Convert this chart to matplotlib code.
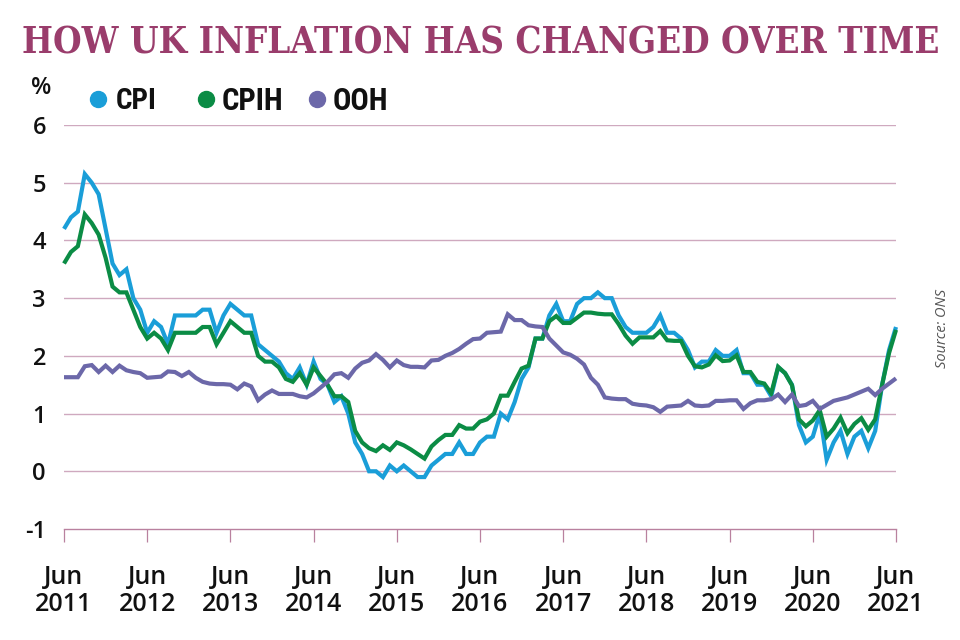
import matplotlib
matplotlib.use("Agg")
import matplotlib.pyplot as plt
from matplotlib import font_manager as fm
from matplotlib.lines import Line2D
import numpy as np

# ---------------- data (monthly, Jun 2011 .. Jun 2021) ----------------
months = np.arange(121)
tick_positions = list(range(0, 121, 12))
tick_labels = [f"Jun\n{y}" for y in range(2011, 2022)]
y_ticks = [-1, 0, 1, 2, 3, 4, 5, 6]

cpi = [4.2, 4.4, 4.5, 5.15, 5.0, 4.8, 4.2,
       3.6, 3.4, 3.5, 3.0, 2.8, 2.4, 2.6, 2.5, 2.2, 2.7, 2.7, 2.7,
       2.7, 2.8, 2.8, 2.4, 2.7, 2.9, 2.8, 2.7, 2.7, 2.2, 2.1, 2.0,
       1.9, 1.7, 1.6, 1.8, 1.5, 1.9, 1.6, 1.5, 1.2, 1.3, 1.0, 0.5,
       0.3, 0.0, 0.0, -0.1, 0.1, 0.0, 0.1, 0.0, -0.1, -0.1, 0.1, 0.2,
       0.3, 0.3, 0.5, 0.3, 0.3, 0.5, 0.6, 0.6, 1.0, 0.9, 1.2, 1.6,
       1.8, 2.3, 2.3, 2.7, 2.9, 2.6, 2.6, 2.9, 3.0, 3.0, 3.1, 3.0,
       3.0, 2.7, 2.5, 2.4, 2.4, 2.4, 2.5, 2.7, 2.4, 2.4, 2.3, 2.1,
       1.8, 1.9, 1.9, 2.1, 2.0, 2.0, 2.1, 1.7, 1.7, 1.5, 1.5, 1.3,
       1.8, 1.7, 1.5, 0.8, 0.5, 0.6, 1.0, 0.2, 0.5, 0.7, 0.3, 0.6,
       0.7, 0.4, 0.7, 1.5, 2.1, 2.5]

cpih = [3.6, 3.8, 3.9, 4.45, 4.3, 4.1, 3.7,
        3.2, 3.1, 3.1, 2.8, 2.5, 2.3, 2.4, 2.3, 2.1, 2.4, 2.4, 2.4,
        2.4, 2.5, 2.5, 2.2, 2.4, 2.6, 2.5, 2.4, 2.4, 2.0, 1.9, 1.9,
        1.8, 1.6, 1.55, 1.7, 1.5, 1.8, 1.65, 1.5, 1.3, 1.3, 1.2, 0.7,
        0.5, 0.4, 0.35, 0.45, 0.37, 0.5, 0.45, 0.38, 0.3, 0.22, 0.43, 0.54,
        0.63, 0.63, 0.8, 0.74, 0.74, 0.86, 0.9, 1.0, 1.31, 1.31, 1.55, 1.78,
        1.83, 2.3, 2.3, 2.6, 2.69, 2.57, 2.57, 2.66, 2.75, 2.75, 2.73, 2.72,
        2.72, 2.55, 2.35, 2.21, 2.32, 2.32, 2.32, 2.43, 2.27, 2.26, 2.26, 2.0,
        1.82, 1.8, 1.85, 2.01, 1.91, 1.92, 2.01, 1.72, 1.72, 1.55, 1.52, 1.35,
        1.81, 1.7, 1.49, 0.9, 0.78, 0.88, 1.06, 0.6, 0.74, 0.93, 0.66, 0.82,
        0.92, 0.72, 0.9, 1.5, 2.05, 2.45]

ooh = [1.63, 1.63, 1.63, 1.82, 1.84, 1.72, 1.83, 1.72, 1.83, 1.75, 1.72, 1.70,
       1.62, 1.63, 1.64, 1.73, 1.72, 1.65, 1.72, 1.62, 1.55, 1.52, 1.51, 1.51,
       1.50, 1.42, 1.52, 1.47, 1.23, 1.33, 1.40, 1.34, 1.34, 1.34, 1.30, 1.28,
       1.35, 1.45, 1.55, 1.68, 1.70, 1.62, 1.78, 1.88, 1.92, 2.03, 1.93, 1.80,
       1.92, 1.84, 1.81, 1.81, 1.80, 1.92, 1.93, 2.00, 2.05, 2.12, 2.21, 2.29,
       2.30, 2.40, 2.41, 2.42, 2.72, 2.62, 2.62, 2.53, 2.51, 2.50, 2.30, 2.18,
       2.06, 2.02, 1.95, 1.85, 1.62, 1.50, 1.28, 1.26, 1.25, 1.25, 1.17, 1.15,
       1.14, 1.11, 1.03, 1.12, 1.13, 1.14, 1.22, 1.14, 1.13, 1.14, 1.22, 1.22,
       1.23, 1.23, 1.08, 1.18, 1.23, 1.23, 1.25, 1.33, 1.20, 1.33, 1.13, 1.15,
       1.22, 1.08, 1.15, 1.22, 1.25, 1.28, 1.33, 1.38, 1.43, 1.32, 1.43, 1.52,
       1.61]

series_names = ["CPI", "CPIH", "OOH"]
series_values = [cpi, cpih, ooh]
series_colors = ["#1a9ed8", "#0b8c45", "#6c68a9"]

title = "HOW UK INFLATION HAS CHANGED OVER TIME"
TITLE_COLOR = "#9a3d6c"
GRID_COLOR = "#cfa9bf"
BASE_COLOR = "#b9819f"

# ---------------- fonts ----------------
def _w(f):
    w = f.weight
    if isinstance(w, str):
        w = fm.weight_dict.get(w, 400)
    return w

def _cond_level(f):
    s = (f.name + " " + str(f.fname) + " " + str(f.stretch)).lower()
    if "extracondensed" in s or "extra-condensed" in s or "ultra" in s and "condensed" in s:
        return 3
    if "semicondensed" in s or "semi-condensed" in s:
        return 1
    if "condensed" in s or "narrow" in s:
        return 2
    return 0

def pick(families, min_w, max_w=1000, prefer_cond=(3, 2, 1)):
    for fam in families:
        for lvl in prefer_cond:
            best = None
            for f in fm.fontManager.ttflist:
                if not f.name.startswith(fam) or f.style != "normal":
                    continue
                w = _w(f)
                if w < min_w or w > max_w:
                    continue
                if _cond_level(f) != lvl:
                    continue
                if best is None or w > _w(best):
                    best = f
            if best is not None:
                return fm.FontProperties(fname=best.fname)
    return None

fp_title = pick(["DejaVu Serif", "Noto Serif"], 700, prefer_cond=(2, 3, 1))
if fp_title is None:
    fp_title = fm.FontProperties(family="DejaVu Serif", weight="bold")

fp_leg = pick(["Liberation Sans Narrow", "Roboto", "Noto Sans", "Open Sans", "DejaVu Sans"],
              700, prefer_cond=(3, 2, 1))
if fp_leg is None:
    fp_leg = fm.FontProperties(family="DejaVu Sans", weight="bold")

names = {f.name for f in fm.fontManager.ttflist}
tick_family = "Open Sans" if "Open Sans" in names else "DejaVu Sans"

# ---------------- figure ----------------
W, H = 960, 640
fig = plt.figure(figsize=(W / 100, H / 100), dpi=100)
fig.patch.set_facecolor("white")

def fx(px):
    return px / W

def fy(py):
    return 1 - py / H

ax = fig.add_axes([fx(64), fy(529), fx(832), (529 - 125) / H])
ax.set_xlim(0, 120)
ax.set_ylim(-1, 6)
for s in ax.spines.values():
    s.set_visible(False)

for v in range(0, 7):
    ax.axhline(v, color=GRID_COLOR, lw=1.0, zorder=0)
ax.axhline(-1, color=BASE_COLOR, lw=1.0, zorder=0, clip_on=False)

for vals, col in zip(series_values, series_colors):
    ax.plot(months, vals, color=col, lw=3.0, solid_joinstyle="miter",
            solid_capstyle="butt", zorder=3, clip_on=False)

ax.set_xticks(tick_positions)
ax.set_xticklabels(tick_labels, family=tick_family, fontsize=18,
                   fontweight="semibold", linespacing=1.08, color="#111111")
ax.tick_params(axis="x", length=9, width=0.9, color=BASE_COLOR, pad=17)

ax.set_yticks(y_ticks)
ax.set_yticklabels([str(v) for v in y_ticks], family=tick_family,
                   fontsize=17, fontweight="semibold", color="#111111")
ax.tick_params(axis="y", length=0, pad=13)

# title fitted to reference width
t = fig.text(fx(481), fy(54), title, fontproperties=fp_title, fontsize=30,
             color=TITLE_COLOR, ha="center", va="baseline")
fig.canvas.draw()
bb = t.get_window_extent()
t.set_fontsize(30 * 918 / bb.width)

# % label
fig.text(fx(41), fy(88), "%", family=tick_family, fontsize=17,
         fontweight="semibold", ha="center", va="center", color="#111111")

# legend
dot_x = [98, 206, 317]
txt_x = [116, 222, 333]
txt_w = [37, 55, 57]
for name, col, dx, tx, tw in zip(series_names, series_colors, dot_x, txt_x, txt_w):
    fig.add_artist(Line2D([fx(dx)], [fy(99)], marker="o", markersize=11.5,
                          color=col, ls="", transform=fig.transFigure))
    lt = fig.text(fx(tx), fy(101), name, fontproperties=fp_leg, fontsize=22,
                  color="#111111", ha="left", va="center")
    fig.canvas.draw()
    wb = lt.get_window_extent().width
    if wb > tw * 1.15:
        lt.set_fontsize(22 * tw * 1.1 / wb)

# source
fig.text(fx(942), fy(328), "Source: ONS", family=tick_family, style="italic",
         fontsize=10.5, color="#555555", rotation=90, ha="center", va="center")

fig.savefig("out.png", dpi=100, facecolor="white")
